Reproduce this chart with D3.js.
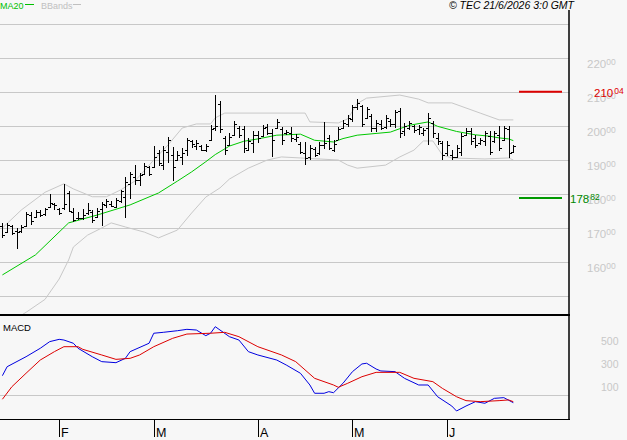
<!DOCTYPE html>
<html lang="en">
<head>
  <script src="https://d3js.org/d3.v7.min.js"></script>
  <meta charset="UTF-8">
  <title>TEC chart</title>
  <style>
    body { margin: 0; background: #f7f7f7; }
    svg { display: block; font-family: "Liberation Sans", Arial, sans-serif; }
  </style>
</head>
<body>
<svg id="chart" width="627" height="440"></svg>
<script>
// daily bars, index 0 = mid January, index 108 = 19 June
const opens = [170.5,168.8,170.5,169.0,169.0,170.6,173.8,173.2,174.6,174.0,176.2,177.0,175.5,175.8,180.2,174.8,172.8,173.0,174.5,174.8,
  173.2,175.5,176.8,177.0,176.2,178.0,179.0,183.0,185.0,184.0,186.0,187.8,188.0,192.0,188.5,192.5,191.5,190.0,191.0,193.0,
  195.5,194.0,194.0,192.8,195.8,199.5,206.5,196.5,194.5,197.5,199.5,199.0,193.0,195.0,197.5,197.0,199.8,198.0,199.5,199.0,
  197.8,198.0,196.2,194.8,192.0,191.0,193.2,192.0,194.5,196.5,193.0,196.0,199.5,200.5,202.0,205.5,205.8,202.5,203.0,199.5,
  200.5,199.8,201.5,200.5,204.5,198.5,199.5,200.0,199.0,198.0,199.5,201.0,196.5,195.0,192.0,191.5,191.0,192.5,197.5,198.5,
  196.5,195.0,195.5,197.0,195.5,197.5,196.0,199.0,192.5];
const highs = [171.5,171.5,170.9,170.0,170.9,174.7,174.7,175.3,175.3,175.9,180.0,177.4,175.9,182.9,180.9,175.9,174.7,175.6,177.4,175.3,
  175.9,177.6,178.5,177.9,178.8,181.2,185.0,186.5,188.5,186.2,189.1,188.2,194.1,193.0,194.1,196.8,193.8,192.6,193.5,196.5,
  195.9,195.9,194.4,194.7,200.3,209.1,207.4,197.1,197.9,201.5,200.0,200.0,196.5,198.5,198.5,200.3,200.6,199.1,202.1,199.7,
  198.8,199.7,197.6,195.3,195.3,194.4,193.8,195.3,201.2,197.4,195.9,199.7,201.8,203.2,206.2,207.9,206.2,205.6,203.5,201.8,
  201.8,203.2,202.1,204.7,205.3,200.9,201.5,200.3,200.3,199.4,203.8,201.5,197.9,195.6,195.6,192.9,194.4,197.9,199.4,199.4,
  197.4,196.5,198.5,198.5,198.5,200.0,200.0,200.0,194.4];
const lows = [167.1,168.5,167.9,163.8,168.5,170.3,170.9,172.9,173.2,173.5,175.9,175.3,173.8,175.3,174.7,171.8,172.4,172.4,173.8,171.5,
  172.9,170.6,175.9,176.2,175.9,177.4,172.9,178.5,182.6,182.4,185.6,185.3,187.6,188.2,187.1,189.1,183.9,189.7,188.5,191.2,
  193.5,192.9,192.6,192.4,195.6,198.5,197.9,191.5,194.1,197.1,196.5,192.1,192.6,192.1,195.0,196.8,197.4,190.9,199.1,194.4,
  197.4,195.3,195.3,191.8,188.5,190.0,190.9,191.5,193.2,192.9,192.4,195.9,199.1,199.7,201.2,204.7,199.7,202.1,198.2,198.2,
  198.8,199.1,199.7,199.4,196.5,197.1,198.8,198.0,197.4,197.1,194.4,196.5,194.4,190.0,191.2,190.0,190.6,191.2,197.1,194.4,
  193.5,194.4,194.1,191.5,195.0,192.6,195.6,190.6,192.1];
const closes = [167.8,170.8,168.5,168.8,170.4,174.0,172.0,174.8,173.8,175.5,177.5,176.8,174.5,177.0,175.0,172.5,173.0,173.8,175.2,172.5,
  175.0,177.0,178.0,176.6,178.2,180.8,183.5,185.8,184.0,185.5,188.2,186.0,191.0,189.0,193.0,195.8,188.0,191.5,192.2,195.8,
  194.8,195.0,193.0,194.0,199.0,200.0,199.0,193.0,196.8,200.5,197.5,193.5,195.5,197.5,196.5,199.5,198.0,196.0,201.2,196.0,
  198.2,196.5,196.8,192.5,190.5,193.5,191.5,194.5,195.0,193.5,194.8,199.0,201.0,202.5,205.5,206.8,200.5,205.0,199.5,201.0,
  199.5,202.5,200.5,204.0,198.0,200.0,200.8,198.8,199.8,198.8,202.5,198.0,195.5,191.5,194.5,191.0,193.5,197.0,198.5,195.5,
  194.5,195.8,198.0,192.5,197.8,193.5,199.5,192.0,194.0];

// overlays: [bar index, value]
const ma20 = [[0,156.2],[7,162.1],[14,171.5],[20,173.8],[27,176.8],[33,180.3],[37,183.8],[40,186.5],[43,189.5],[45,191.6],
  [48,194.1],[51,195.5],[54,196.2],[58,197.3],[63,197.6],[66,195.8],[70,195.3],[72,196.3],[75,197.3],[82,198.2],[86,200.2],
  [90,201.2],[92,199.9],[96,198.4],[100,197.4],[103,197.0],[105,196.5],[107,196.2],[108,195.7]];
const bbUpper = [[0,170.0],[4,175.3],[9,180.5],[13,183.0],[15,181.5],[19,179.2],[22,179.2],[25,181.2],[28,183.8],[32,190.0],
  [35,194.4],[38,199.4],[41,200.6],[44,200.6],[45,202.4],[47,203.8],[64,203.8],[65,201.2],[71,200.9],[73,202.1],[75,206.6],
  [77,208.2],[84,209.1],[88,207.9],[90,206.8],[95,206.8],[101,203.8],[105,201.8],[108,201.8]];
const bbLower = [[0,141.0],[5,145.2],[9,149.0],[12,155.0],[14,160.6],[15,164.4],[18,167.9],[21,170.0],[23,171.5],[26,170.3],[30,168.8],
  [33,167.1],[37,169.4],[40,174.4],[43,179.1],[46,181.8],[48,184.4],[52,187.6],[56,190.0],[59,190.9],[63,190.6],[71,190.0],
  [73,188.5],[75,187.6],[81,188.5],[84,190.9],[87,192.9],[89,195.6],[91,195.6],[93,191.5],[95,190.6],[102,190.3],[107,190.6],[108,190.0]];

const macdLine = [[0,168],[1,246],[5,333],[8,406],[10,464],[12,484],[13,478],[15,450],[16,406],[19,333],[21,290],[24,281],
  [26,319],[27,377],[31,450],[32,537],[34,545],[37,559],[39,571],[41,565],[43,516],[44,537],[45,594],[46,565],[48,507],
  [50,478],[52,377],[54,348],[58,304],[60,261],[63,189],[65,87],[66,15],[68,15],[69,29],[70,20],[72,102],[74,203],[76,270],
  [77,276],[79,226],[80,209],[83,203],[85,145],[88,87],[90,87],[92,-15],[95,-96],[96,-139],[98,-96],[100,-58],[102,-72],
  [104,-29],[106,-23],[108,-67]];
const signalLine = [[0,-37],[2,72],[5,189],[8,304],[11,377],[13,420],[16,420],[17,397],[21,348],[24,310],[27,319],[29,348],
  [32,420],[36,493],[39,530],[44,537],[47,545],[50,507],[54,420],[59,348],[62,290],[66,145],[70,87],[71,67],[73,102],[76,159],
  [79,197],[84,197],[87,145],[91,116],[93,58],[96,-15],[98,-49],[101,-58],[105,-49],[107,-43],[108,-58]];

const monthTicks = [12, 32, 54, 74, 94];
const monthLabels = ["F", "M", "A", "M", "J"];
const priceGrid = [150, 160, 170, 180, 190, 200, 210, 220, 230];
const priceLabels = [160, 170, 180, 190, 200, 210, 220];
const macdLabels = [100, 300, 500];
const resistance = 210.04;
const support = 178.82;

const svg = d3.select("#chart");
const plotRight = 569;

const x = d3.scaleLinear().domain([0, 108]).range([2.4, 513.3]);
const y = d3.scaleLinear().domain([230, 150]).range([24, 296]);
const ym = d3.scaleLinear().domain([0, 500]).range([395, 337.5]);

svg.append("rect").attr("width", 627).attr("height", 440).attr("fill", "#f7f7f7");

svg.append("clipPath").attr("id", "pclip").append("rect")
  .attr("x", 0).attr("y", 10).attr("width", plotRight).attr("height", 304);
svg.append("clipPath").attr("id", "mclip").append("rect")
  .attr("x", 0).attr("y", 316).attr("width", plotRight).attr("height", 103);

// price grid
svg.append("g").selectAll("line").data(priceGrid).join("line")
  .attr("x1", 0).attr("x2", plotRight)
  .attr("y1", d => Math.round(y(d)) + 0.5).attr("y2", d => Math.round(y(d)) + 0.5)
  .attr("stroke", "#c8c8c8");

const price = svg.append("g").attr("clip-path", "url(#pclip)");
const line = d3.line().x(d => x(d[0])).y(d => y(d[1]));

price.append("path").attr("d", line(bbUpper)).attr("fill", "none").attr("stroke", "#c8c8c8");
price.append("path").attr("d", line(bbLower)).attr("fill", "none").attr("stroke", "#c8c8c8");
price.append("path").attr("d", line(ma20)).attr("fill", "none").attr("stroke", "#00c800");

// OHLC bars
const bars = price.append("g").attr("stroke", "#000").attr("shape-rendering", "crispEdges");
const idx = d3.range(opens.length);
bars.selectAll("line.hl").data(idx).join("line").attr("class", "hl")
  .attr("x1", i => Math.round(x(i)) + 0.5).attr("x2", i => Math.round(x(i)) + 0.5)
  .attr("y1", i => y(highs[i])).attr("y2", i => y(lows[i]));
bars.selectAll("line.op").data(idx).join("line").attr("class", "op")
  .attr("x1", i => Math.round(x(i)) - 2).attr("x2", i => Math.round(x(i)))
  .attr("y1", i => Math.round(y(opens[i])) + 0.5).attr("y2", i => Math.round(y(opens[i])) + 0.5);
bars.selectAll("line.cl").data(idx).join("line").attr("class", "cl")
  .attr("x1", i => Math.round(x(i)) + 1).attr("x2", i => Math.round(x(i)) + 3)
  .attr("y1", i => Math.round(y(closes[i])) + 0.5).attr("y2", i => Math.round(y(closes[i])) + 0.5);

// right axis labels
const plab = svg.append("g").attr("fill", "#c8c8c8");
priceLabels.forEach(v => {
  const t = plab.append("text").attr("x", 587).attr("y", Math.round(y(v)) + 10).attr("font-size", 11.5);
  t.append("tspan").text(v);
  t.append("tspan").attr("font-size", 8.5).attr("dy", -3.5).text("00");
});

// resistance / support
function level(v, color, lineColor, lx) {
  svg.append("line").attr("x1", 519).attr("x2", 562)
    .attr("y1", y(v)).attr("y2", y(v)).attr("stroke", lineColor).attr("stroke-width", 2);
  const parts = v.toFixed(2).split(".");
  const t = svg.append("text").attr("x", lx).attr("y", Math.round(y(v)) + 5)
    .attr("fill", color).attr("font-size", 11.5);
  t.append("tspan").text(parts[0]);
  t.append("tspan").attr("font-size", 8.5).attr("dy", -3).attr("dx", 1).text(parts[1]);
}
level(resistance, "#dd0000", "#dd0000", 594);
level(support, "#008800", "#009900", 570);

// MACD panel
svg.append("line").attr("x1", 0).attr("x2", plotRight).attr("y1", ym(0) + 0.5).attr("y2", ym(0) + 0.5)
  .attr("stroke", "#c8c8c8");
const macd = svg.append("g").attr("clip-path", "url(#mclip)");
const mline = d3.line().x(d => x(d[0])).y(d => ym(d[1]));
macd.append("path").attr("d", mline(macdLine)).attr("fill", "none").attr("stroke", "#0000e0");
macd.append("path").attr("d", mline(signalLine)).attr("fill", "none").attr("stroke", "#dd0000");

svg.append("g").selectAll("text").data(macdLabels).join("text")
  .attr("x", 601).attr("y", d => ym(d) + 7).attr("font-size", 10.5).attr("fill", "#c8c8c8")
  .text(d => d);

svg.append("text").attr("x", 3).attr("y", 331).attr("font-size", 9.5).attr("fill", "#000").text("MACD");

// frame
svg.append("line").attr("x1", plotRight).attr("x2", plotRight).attr("y1", 10).attr("y2", 420)
  .attr("stroke", "#000").attr("stroke-width", 1.5);
svg.append("line").attr("x1", 0).attr("x2", plotRight + 1).attr("y1", 315).attr("y2", 315)
  .attr("stroke", "#000").attr("stroke-width", 2);
svg.append("line").attr("x1", 0).attr("x2", plotRight + 1).attr("y1", 419.5).attr("y2", 419.5)
  .attr("stroke", "#000");

// month axis
const ax = svg.append("g");
ax.selectAll("line").data(monthTicks).join("line")
  .attr("x1", d => Math.round(x(d)) + 0.5).attr("x2", d => Math.round(x(d)) + 0.5)
  .attr("y1", 419).attr("y2", 437).attr("stroke", "#000");
ax.selectAll("text").data(monthTicks).join("text")
  .attr("x", d => Math.round(x(d)) + 2).attr("y", 437).attr("font-size", 12.5).attr("fill", "#000")
  .text((d, i) => monthLabels[i]);

// legend and stamp
svg.append("text").attr("x", 0).attr("y", 9).attr("font-size", 9).attr("fill", "#00c000").text("MA20");
svg.append("line").attr("x1", 25).attr("x2", 34).attr("y1", 4.5).attr("y2", 4.5).attr("stroke", "#00c000");
svg.append("text").attr("x", 41).attr("y", 9).attr("font-size", 9).attr("fill", "#c0c0c0").text("BBands");
svg.append("line").attr("x1", 73).attr("x2", 81).attr("y1", 4.5).attr("y2", 4.5).attr("stroke", "#c0c0c0");
svg.append("text").attr("x", 574).attr("y", 9).attr("text-anchor", "end").attr("font-size", 10.5)
  .attr("font-style", "italic").attr("fill", "#000").text("© TEC 21/6/2026 3:0 GMT");
</script>
</body>
</html>
